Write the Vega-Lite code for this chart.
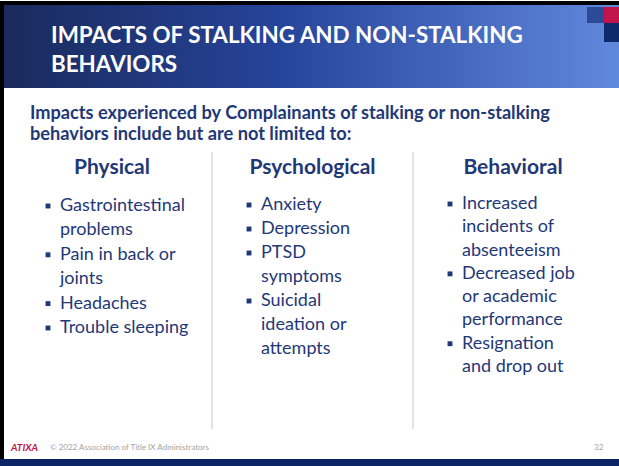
{
  "$schema": "https://vega.github.io/schema/vega-lite/v6.json",
  "width": 619,
  "height": 466,
  "padding": 0,
  "autosize": {"type": "none"},
  "background": "#ffffff",
  "config": {"view": {"stroke": null}, "font": "Lato"},
  "datasets": {
    "shapes": [
      {"part": "border", "x0": 0, "x1": 619, "y0": 1, "y1": 466},
      {"part": "slide", "x0": 4, "x1": 619, "y0": 5, "y1": 459},
      {"part": "bar", "x0": 0, "x1": 619, "y0": 459, "y1": 466},
      {"part": "header", "x0": 4, "x1": 619, "y0": 5, "y1": 88},
      {"part": "square1", "x0": 587, "x1": 604, "y0": 7, "y1": 23},
      {"part": "square2", "x0": 604, "x1": 619, "y0": 7, "y1": 23},
      {"part": "square3", "x0": 604, "x1": 619, "y0": 23, "y1": 42},
      {"part": "divider", "x0": 212, "x1": 212, "y0": 152, "y1": 429},
      {"part": "divider", "x0": 413, "x1": 413, "y0": 152, "y1": 429}
    ],
    "texts": [
      {"block": "title", "col": 0, "line": 1, "text": "IMPACTS OF STALKING AND NON-STALKING"},
      {"block": "title", "col": 0, "line": 2, "text": "BEHAVIORS"},
      {"block": "intro", "col": 0, "line": 1, "text": "Impacts experienced by Complainants of stalking or non-stalking"},
      {"block": "intro", "col": 0, "line": 2, "text": "behaviors include but are not limited to:"},
      {"block": "heading", "col": 1, "line": 1, "text": "Physical"},
      {"block": "heading", "col": 2, "line": 1, "text": "Psychological"},
      {"block": "heading", "col": 3, "line": 1, "text": "Behavioral"},
      {"block": "item", "col": 1, "item": 1, "line": 1, "bullet": true, "text": "Gastrointestinal"},
      {"block": "item", "col": 1, "item": 1, "line": 2, "bullet": false, "text": "problems"},
      {"block": "item", "col": 1, "item": 2, "line": 3, "bullet": true, "text": "Pain in back or"},
      {"block": "item", "col": 1, "item": 2, "line": 4, "bullet": false, "text": "joints"},
      {"block": "item", "col": 1, "item": 3, "line": 5, "bullet": true, "text": "Headaches"},
      {"block": "item", "col": 1, "item": 4, "line": 6, "bullet": true, "text": "Trouble sleeping"},
      {"block": "item", "col": 2, "item": 1, "line": 1, "bullet": true, "text": "Anxiety"},
      {"block": "item", "col": 2, "item": 2, "line": 2, "bullet": true, "text": "Depression"},
      {"block": "item", "col": 2, "item": 3, "line": 3, "bullet": true, "text": "PTSD"},
      {"block": "item", "col": 2, "item": 3, "line": 4, "bullet": false, "text": "symptoms"},
      {"block": "item", "col": 2, "item": 4, "line": 5, "bullet": true, "text": "Suicidal"},
      {"block": "item", "col": 2, "item": 4, "line": 6, "bullet": false, "text": "ideation or"},
      {"block": "item", "col": 2, "item": 4, "line": 7, "bullet": false, "text": "attempts"},
      {"block": "item", "col": 3, "item": 1, "line": 1, "bullet": true, "text": "Increased"},
      {"block": "item", "col": 3, "item": 1, "line": 2, "bullet": false, "text": "incidents of"},
      {"block": "item", "col": 3, "item": 1, "line": 3, "bullet": false, "text": "absenteeism"},
      {"block": "item", "col": 3, "item": 2, "line": 4, "bullet": true, "text": "Decreased job"},
      {"block": "item", "col": 3, "item": 2, "line": 5, "bullet": false, "text": "or academic"},
      {"block": "item", "col": 3, "item": 2, "line": 6, "bullet": false, "text": "performance"},
      {"block": "item", "col": 3, "item": 3, "line": 7, "bullet": true, "text": "Resignation"},
      {"block": "item", "col": 3, "item": 3, "line": 8, "bullet": false, "text": "and drop out"},
      {"block": "logo", "col": 0, "line": 1, "text": "ATIXA"},
      {"block": "credit", "col": 0, "line": 1, "text": "© 2022 Association of Title IX Administrators"},
      {"block": "page", "col": 0, "line": 1, "text": "32"}
    ]
  },
  "layer": [
    {
      "data": {"name": "shapes"},
      "transform": [{"filter": "indexof(['border','slide','bar'], datum.part) >= 0"}],
      "mark": {"type": "rect"},
      "encoding": {
        "x": {"field": "x0", "type": "quantitative", "scale": {"domain": [0, 619], "range": [0, 619], "nice": false}, "axis": null},
        "x2": {"field": "x1"},
        "y": {"field": "y0", "type": "quantitative", "scale": {"domain": [0, 466], "range": [0, 466], "nice": false}, "axis": null},
        "y2": {"field": "y1"},
        "color": {"field": "part", "type": "nominal", "scale": {"domain": ["border", "slide", "bar"], "range": ["#000000", "#ffffff", "#0b2466"]}, "legend": null}
      }
    },
    {
      "data": {"name": "shapes"},
      "transform": [{"filter": "datum.part == 'header'"}],
      "mark": {"type": "rect", "fill": {"gradient": "linear", "x1": 0, "y1": 0, "x2": 1, "y2": 0, "stops": [{"offset": 0, "color": "#1a2a5c"}, {"offset": 0.45, "color": "#26449a"}, {"offset": 1, "color": "#6088dd"}]}},
      "encoding": {
        "x": {"field": "x0", "type": "quantitative", "scale": {"domain": [0, 619], "range": [0, 619], "nice": false}, "axis": null},
        "x2": {"field": "x1"},
        "y": {"field": "y0", "type": "quantitative", "scale": {"domain": [0, 466], "range": [0, 466], "nice": false}, "axis": null},
        "y2": {"field": "y1"}
      }
    },
    {
      "data": {"name": "shapes"},
      "transform": [{"filter": "indexof(['square1','square2','square3'], datum.part) >= 0"}],
      "mark": {"type": "rect"},
      "encoding": {
        "x": {"field": "x0", "type": "quantitative", "scale": {"domain": [0, 619], "range": [0, 619], "nice": false}, "axis": null},
        "x2": {"field": "x1"},
        "y": {"field": "y0", "type": "quantitative", "scale": {"domain": [0, 466], "range": [0, 466], "nice": false}, "axis": null},
        "y2": {"field": "y1"},
        "color": {"field": "part", "type": "nominal", "scale": {"domain": ["square1", "square2", "square3"], "range": ["#2c4a98", "#c1134c", "#0c2a6c"]}, "legend": null}
      }
    },
    {
      "data": {"name": "shapes"},
      "transform": [{"filter": "datum.part == 'divider'"}],
      "mark": {"type": "rule", "color": "#dadada", "strokeWidth": 1.5},
      "encoding": {
        "x": {"field": "x0", "type": "quantitative", "scale": {"domain": [0, 619], "range": [0, 619], "nice": false}, "axis": null},
        "y": {"field": "y0", "type": "quantitative", "scale": {"domain": [0, 466], "range": [0, 466], "nice": false}, "axis": null},
        "y2": {"field": "y1"}
      }
    },
    {
      "data": {"name": "texts"},
      "transform": [{"filter": "datum.block == 'title'"}],
      "mark": {"type": "text", "align": "left", "baseline": "middle", "font": "Lato", "fontWeight": "bold", "fontSize": 22.4, "color": "#ffffff"},
      "encoding": {
        "x": {"field": "col", "type": "quantitative", "scale": {"domain": [0, 1], "range": [51, 619], "nice": false}, "axis": null},
        "y": {"field": "line", "type": "quantitative", "scale": {"domain": [1, 2], "range": [36, 65], "nice": false, "zero": false}, "axis": null},
        "text": {"field": "text"}
      }
    },
    {
      "data": {"name": "texts"},
      "transform": [{"filter": "datum.block == 'intro'"}],
      "mark": {"type": "text", "align": "left", "baseline": "middle", "font": "Lato", "fontWeight": "bold", "fontSize": 18.2, "color": "#1f3877"},
      "encoding": {
        "x": {"field": "col", "type": "quantitative", "scale": {"domain": [0, 1], "range": [30, 619], "nice": false}, "axis": null},
        "y": {"field": "line", "type": "quantitative", "scale": {"domain": [1, 2], "range": [114, 134.5], "nice": false, "zero": false}, "axis": null},
        "text": {"field": "text"}
      }
    },
    {
      "data": {"name": "texts"},
      "transform": [{"filter": "datum.block == 'heading'"}],
      "mark": {"type": "text", "align": "center", "baseline": "middle", "font": "Lato", "fontWeight": "bold", "fontSize": 21, "color": "#1f3877"},
      "encoding": {
        "x": {"field": "col", "type": "quantitative", "scale": {"domain": [1, 3], "range": [112, 513], "nice": false, "zero": false}, "axis": null},
        "y": {"field": "line", "type": "quantitative", "scale": {"domain": [1, 2], "range": [167.5, 190], "nice": false, "zero": false}, "axis": null},
        "text": {"field": "text"}
      }
    },
    {
      "data": {"name": "texts"},
      "transform": [{"filter": "datum.block == 'item' && datum.col == 1"}],
      "encoding": {
        "y": {"field": "line", "type": "quantitative", "scale": {"domain": [1, 6], "range": [206, 328], "nice": false, "zero": false}, "axis": null}
      },
      "layer": [
        {
          "transform": [{"filter": "datum.bullet"}],
          "mark": {"type": "square", "size": 24, "filled": true, "opacity": 1, "color": "#1f3877"},
          "encoding": {
            "x": {"field": "col", "type": "quantitative", "scale": {"domain": [1, 3], "range": [48, 450], "nice": false, "zero": false}, "axis": null}
          }
        },
        {
          "mark": {"type": "text", "align": "left", "baseline": "middle", "font": "Lato", "fontSize": 18, "color": "#1f3877"},
          "encoding": {
            "x": {"field": "col", "type": "quantitative", "scale": {"domain": [1, 3], "range": [60, 462], "nice": false, "zero": false}, "axis": null},
            "text": {"field": "text"}
          }
        }
      ],
      "resolve": {"scale": {"x": "independent"}}
    },
    {
      "data": {"name": "texts"},
      "transform": [{"filter": "datum.block == 'item' && datum.col == 2"}],
      "encoding": {
        "y": {"field": "line", "type": "quantitative", "scale": {"domain": [1, 7], "range": [205, 349], "nice": false, "zero": false}, "axis": null}
      },
      "layer": [
        {
          "transform": [{"filter": "datum.bullet"}],
          "mark": {"type": "square", "size": 24, "filled": true, "opacity": 1, "color": "#1f3877"},
          "encoding": {
            "x": {"field": "col", "type": "quantitative", "scale": {"domain": [1, 3], "range": [48, 450], "nice": false, "zero": false}, "axis": null}
          }
        },
        {
          "mark": {"type": "text", "align": "left", "baseline": "middle", "font": "Lato", "fontSize": 18, "color": "#1f3877"},
          "encoding": {
            "x": {"field": "col", "type": "quantitative", "scale": {"domain": [1, 3], "range": [60, 462], "nice": false, "zero": false}, "axis": null},
            "text": {"field": "text"}
          }
        }
      ],
      "resolve": {"scale": {"x": "independent"}}
    },
    {
      "data": {"name": "texts"},
      "transform": [{"filter": "datum.block == 'item' && datum.col == 3"}],
      "encoding": {
        "y": {"field": "line", "type": "quantitative", "scale": {"domain": [1, 8], "range": [204, 367], "nice": false, "zero": false}, "axis": null}
      },
      "layer": [
        {
          "transform": [{"filter": "datum.bullet"}],
          "mark": {"type": "square", "size": 24, "filled": true, "opacity": 1, "color": "#1f3877"},
          "encoding": {
            "x": {"field": "col", "type": "quantitative", "scale": {"domain": [1, 3], "range": [48, 450], "nice": false, "zero": false}, "axis": null}
          }
        },
        {
          "mark": {"type": "text", "align": "left", "baseline": "middle", "font": "Lato", "fontSize": 18, "color": "#1f3877"},
          "encoding": {
            "x": {"field": "col", "type": "quantitative", "scale": {"domain": [1, 3], "range": [60, 462], "nice": false, "zero": false}, "axis": null},
            "text": {"field": "text"}
          }
        }
      ],
      "resolve": {"scale": {"x": "independent"}}
    },
    {
      "data": {"name": "texts"},
      "transform": [{"filter": "datum.block == 'logo'"}],
      "mark": {"type": "text", "align": "left", "baseline": "middle", "font": "Lato", "fontWeight": "bold", "fontStyle": "italic", "fontSize": 10, "color": "#c0134a"},
      "encoding": {
        "x": {"field": "col", "type": "quantitative", "scale": {"domain": [0, 1], "range": [11, 619], "nice": false}, "axis": null},
        "y": {"field": "line", "type": "quantitative", "scale": {"domain": [0, 1], "range": [0, 448], "nice": false}, "axis": null},
        "text": {"field": "text"}
      }
    },
    {
      "data": {"name": "texts"},
      "transform": [{"filter": "datum.block == 'credit'"}],
      "mark": {"type": "text", "align": "left", "baseline": "middle", "font": "Lato", "fontSize": 8, "color": "#a3a3a3"},
      "encoding": {
        "x": {"field": "col", "type": "quantitative", "scale": {"domain": [0, 1], "range": [50, 619], "nice": false}, "axis": null},
        "y": {"field": "line", "type": "quantitative", "scale": {"domain": [0, 1], "range": [0, 448], "nice": false}, "axis": null},
        "text": {"field": "text"}
      }
    },
    {
      "data": {"name": "texts"},
      "transform": [{"filter": "datum.block == 'page'"}],
      "mark": {"type": "text", "align": "left", "baseline": "middle", "font": "Lato", "fontSize": 8, "color": "#a3a3a3"},
      "encoding": {
        "x": {"field": "col", "type": "quantitative", "scale": {"domain": [0, 1], "range": [594, 700], "nice": false}, "axis": null},
        "y": {"field": "line", "type": "quantitative", "scale": {"domain": [0, 1], "range": [0, 448], "nice": false}, "axis": null},
        "text": {"field": "text"}
      }
    }
  ],
  "resolve": {"scale": {"x": "independent", "y": "independent", "color": "independent"}}
}
